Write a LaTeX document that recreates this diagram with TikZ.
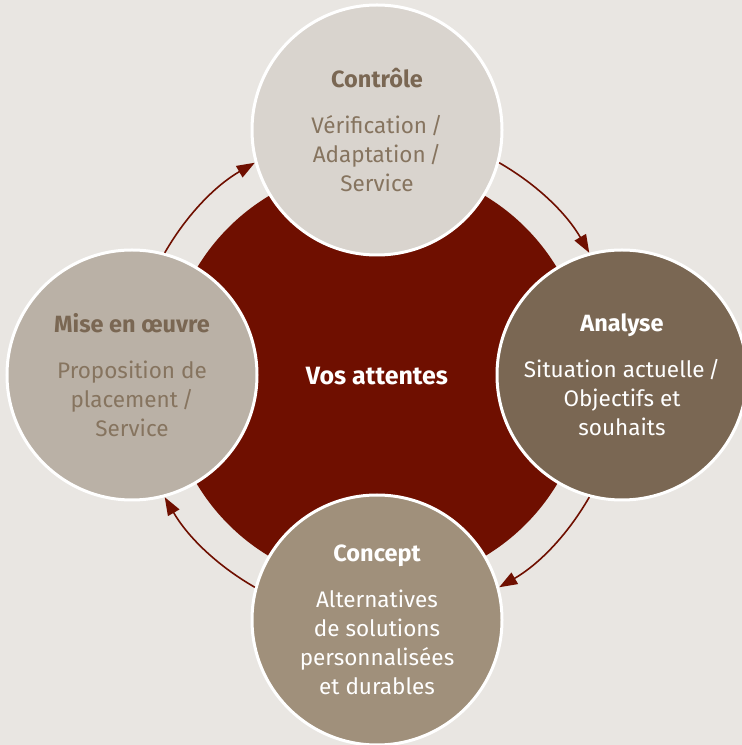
\documentclass[tikz,border=0pt]{standalone}
\usepackage{fontspec}
\setmainfont{Fira Sans}
\usepackage{tikz}
\usetikzlibrary{arrows.meta}

\definecolor{fond}{HTML}{E9E6E2}
\definecolor{rouge}{HTML}{6F0F00}
\definecolor{gristop}{HTML}{D9D4CE}
\definecolor{grisgauche}{HTML}{BAB1A6}
\definecolor{brundroite}{HTML}{7A6753}
\definecolor{brunbas}{HTML}{A0907B}
\definecolor{braun}{HTML}{7A6753}
\definecolor{braunclair}{HTML}{86745F}

\newcommand{\titre}[2][.]{{\fontsize{23.5}{29}\selectfont\bfseries\color{#1}#2}\\[17pt]}

\begin{document}
\begin{tikzpicture}[x=1pt,y=1pt,
		kreis/.style={circle,draw=white,line width=3pt,minimum size=250pt,inner sep=0pt,align=center,font=\fontsize{22.5}{29}\selectfont},
		fleche/.style={draw=rouge,line width=1.6pt,-{Triangle[length=18pt,width=13pt]},bend left=15,looseness=0.9}]
				\clip (0,0) rectangle (742,745);
				\fill[fond] (0,0) rectangle (742,745);
				\node[circle,fill=rouge,minimum size=420pt,inner sep=0pt,text=white,font=\fontsize{25}{29}\selectfont\bfseries] (vos) at (377,369) {Vos attentes};
				\node[kreis,fill=gristop,text=braunclair] (ctrl) at (377,615) {\titre[braun]{Contrôle}Vérification\,/\\Adaptation\,/\\Service};
				\node[kreis,fill=brundroite,text=white] (analyse) at (622,370) {\titre{Analyse}Situation actuelle\,/\\Objectifs et\\souhaits};
				\node[kreis,fill=brunbas,text=white] (concept) at (377,125) {\titre{Concept}Alternatives\\de solutions\\personnalisées\\et durables};
				\node[kreis,fill=grisgauche,text=braunclair] (mise) at (132,370) {\titre[braun]{Mise en œuvre}Proposition de\\placement\,/\\Service};
				\foreach \a/\b in {ctrl.-15/analyse.105, analyse.-105/concept.15, concept.165/mise.-75, mise.75/ctrl.195} {
					\draw[fleche] (\a) to (\b);
				}
			\end{tikzpicture}
\end{document}
